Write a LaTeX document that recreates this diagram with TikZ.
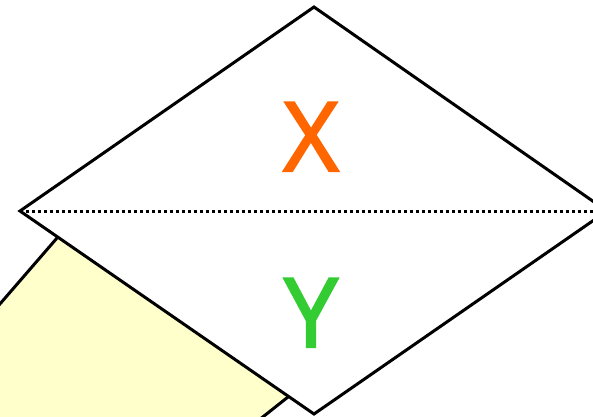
\documentclass[tikz,border=0pt]{standalone}
\usepackage{fontspec}
\setmainfont{Open Sans}
\newfontfamily\heavyface[FakeBold=2.2]{Open Sans}
\begin{document}
\begin{tikzpicture}[x=1pt,y=-1pt,
  outline/.style={draw=black,line width=3pt,line join=miter},
  letter/.style={font=\heavyface\fontsize{96}{96}\selectfont,inner sep=0pt,anchor=base}]
\useasboundingbox (0,0) rectangle (593,416);
\begin{scope}
\clip (0,0) rectangle (593,416);
% pale yellow shape partly hidden behind the diamond
\fill[fill={rgb,255:red,255;green,255;blue,204}] (57,238) -- (-20,327) -- (0,470) -- (240,440) -- (288,397) -- cycle;
\draw[outline] (57,238) -- (-20,327);
\draw[outline] (288,397) -- (240,435);
% diamond with its dotted middle line
\coordinate (top) at (314,7);
\coordinate (left) at (20,211);
\coordinate (bottom) at (314,414);
\coordinate (right) at (607,211);
\filldraw[outline,fill=white] (top) -- (right) -- (bottom) -- (left) -- cycle;
\draw[line width=3pt,dash pattern=on 3pt off 3pt] (left) -- (right);
\node[letter,text={rgb,255:red,255;green,102;blue,0}] (x) at (311,171) {X};
\node[letter,text={rgb,255:red,51;green,204;blue,51}] (y) at (311,347) {Y};
\end{scope}
\end{tikzpicture}
\end{document}
